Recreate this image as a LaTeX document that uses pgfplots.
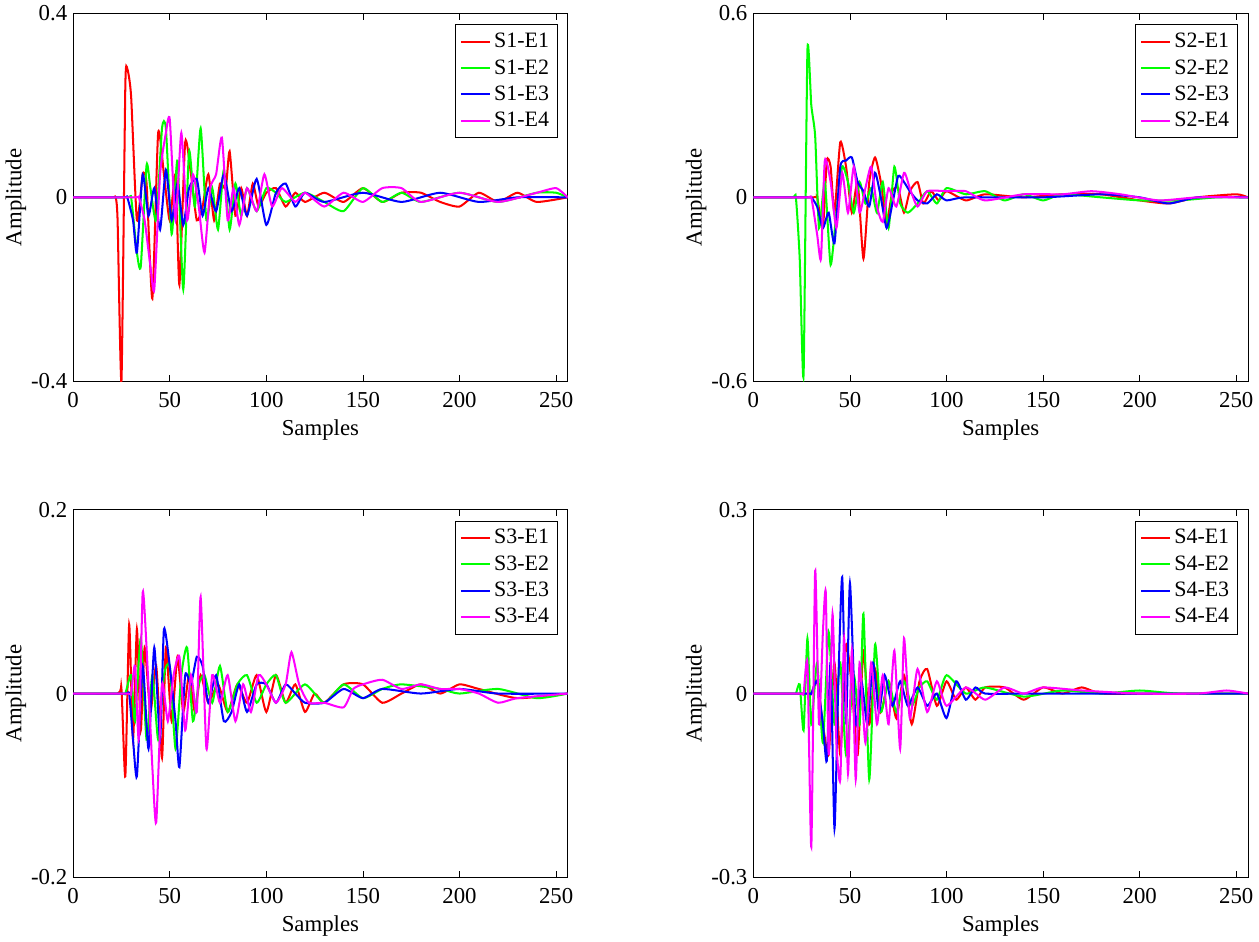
\documentclass[border=0pt]{standalone}
\usepackage{pgfplots}
\pgfplotsset{compat=1.18}
\usepgfplotslibrary{groupplots}
\usepackage{fontspec}
\setmainfont{Liberation Serif}
\definecolor{cR}{RGB}{255,0,0}
\definecolor{cG}{RGB}{0,255,0}
\definecolor{cB}{RGB}{0,0,255}
\definecolor{cM}{RGB}{255,0,255}
\pgfplotsset{every axis plot/.append style={line width=1.2pt, smooth, tension=0.35, no marks}}
\begin{document}
\begin{tikzpicture}
\begin{groupplot}[group style={group size=2 by 2, horizontal sep=110pt, vertical sep=76pt},
 width=293pt, height=218pt, scale only axis,
 xmin=0, xmax=256, xtick={0,50,100,150,200,250},
 tick align=inside, tick style={black, line width=0.4pt}, major tick length=4pt,
 /pgf/number format/assume math mode=true,
 ticklabel style={font=\fontsize{13.5}{15}\selectfont},
 xticklabel style={yshift=-3pt},
 label style={font=\fontsize{13.5}{15}\selectfont},
 xlabel={Samples}, ylabel={Amplitude},
 xlabel shift=0pt, ylabel shift=-4pt,
 legend style={at={(0.98,0.97)}, anchor=north east, draw=black, font=\fontsize{13}{15}\selectfont, row sep=1.5pt, inner sep=3pt},
 legend cell align=left,
 legend image post style={line width=1.2pt},
 clip=true]
% S1
\nextgroupplot[ymin=-0.4, ymax=0.4, ytick={-0.4,0,0.4}, yticklabels={-0.4,0,0.4}]
\addplot[cR] table[row sep=\\]{x y\\0 0\\20 0\\22 0\\23 -0.05\\25 -0.4\\27 0.24\\28 0.28\\30 0.22\\33 -0.05\\36 0.05\\38 0.03\\41 -0.22\\44 0.14\\47 0.05\\50 -0.05\\53 0.05\\55 -0.19\\58 0.12\\61 0.05\\64 -0.05\\67 -0.02\\70 0.05\\73 -0.05\\76 0.03\\79 0.02\\81 0.1\\84 -0.04\\87 0.02\\90 -0.04\\93 0.03\\96 -0.02\\100 0.01\\105 0.02\\110 -0.02\\115 0.01\\120 -0.01\\130 0.01\\140 -0.01\\150 0.02\\160 -0.01\\170 0.01\\180 0.01\\190 -0.01\\200 -0.02\\210 0.01\\220 -0.01\\230 0.01\\240 -0.01\\256 0\\};
\addplot[cG] table[row sep=\\]{x y\\0 0\\28 0\\30 0\\33 -0.12\\35 -0.15\\38 0.07\\40 0.02\\43 -0.05\\46 0.15\\48 0.15\\51 -0.08\\54 0.08\\57 -0.2\\60 0.1\\63 -0.02\\66 0.15\\69 -0.05\\72 0.02\\75 -0.07\\78 0.06\\81 -0.07\\84 0.03\\87 -0.04\\90 0.02\\95 -0.03\\100 0.02\\105 0.01\\110 -0.01\\120 0.01\\130 -0.01\\140 -0.03\\150 0.02\\160 -0.01\\170 0.01\\180 -0.01\\200 0.01\\220 -0.01\\240 0.01\\250 0.01\\256 0\\};
\addplot[cB] table[row sep=\\]{x y\\0 0\\26 0\\28 0\\31 -0.05\\33 -0.12\\36 0.05\\39 -0.04\\42 0.02\\45 -0.07\\48 0.06\\51 -0.05\\54 0.03\\57 -0.06\\60 0.02\\64 0.04\\67 -0.04\\70 0.02\\74 -0.03\\78 0.05\\82 -0.03\\86 0.02\\90 -0.04\\95 0.04\\100 -0.06\\105 0.01\\110 0.03\\115 -0.02\\120 0.01\\130 -0.01\\150 0.01\\170 -0.01\\190 0.01\\210 -0.01\\230 0\\256 0\\};
\addplot[cM] table[row sep=\\]{x y\\0 0\\32 0\\34 0\\37 -0.05\\40 -0.15\\42 -0.2\\45 0.05\\48 0.14\\50 0.17\\53 -0.05\\56 0.14\\59 -0.05\\62 0.05\\65 -0.02\\68 -0.12\\71 0.02\\74 0.05\\77 0.13\\80 -0.05\\83 0.02\\86 -0.06\\90 0.02\\95 -0.03\\99 0.05\\103 -0.02\\108 0.02\\115 -0.01\\120 0.01\\130 -0.02\\140 0.01\\150 -0.01\\160 0.02\\170 0.02\\180 -0.01\\200 0.01\\220 -0.01\\240 0.01\\250 0.02\\256 0\\};
\legend{S1-E1,S1-E2,S1-E3,S1-E4}
% S2
\nextgroupplot[ymin=-0.6, ymax=0.6, ytick={-0.6,0,0.6}, yticklabels={-0.6,0,0.6}]
\addplot[cR] table[row sep=\\]{x y\\0 0\\31 0\\33 0\\36 -0.1\\38 0.12\\40 0.1\\42 -0.05\\45 0.18\\48 0.1\\51 -0.05\\54 0.05\\57 -0.2\\60 0.05\\63 0.13\\66 0.05\\69 -0.08\\72 0.02\\75 0.03\\78 -0.05\\81 0.02\\85 0.05\\88 -0.02\\92 0.02\\96 -0.01\\100 0.02\\110 -0.01\\120 0.01\\140 0\\160 0.01\\180 0.01\\200 -0.01\\215 -0.02\\230 0\\250 0.01\\256 0\\};
\addplot[cG] table[row sep=\\]{x y\\0 0\\20 0\\22 0\\24 -0.2\\26 -0.58\\28 0.48\\30 0.3\\32 0.2\\34 -0.1\\37 0.05\\40 -0.22\\43 -0.05\\46 0.1\\49 0.05\\52 -0.05\\55 0.05\\58 -0.02\\61 0.03\\64 -0.05\\67 0.05\\70 -0.1\\73 0.1\\76 -0.02\\80 -0.05\\85 -0.02\\90 0.02\\95 -0.02\\100 0.03\\110 0.01\\120 0.02\\130 -0.01\\140 0.01\\150 -0.01\\160 0.01\\180 0\\200 -0.01\\220 -0.01\\240 0\\256 0\\};
\addplot[cB] table[row sep=\\]{x y\\0 0\\28 0\\30 0\\33 -0.03\\36 -0.1\\39 -0.05\\42 -0.15\\45 0.1\\48 0.12\\51 0.13\\54 0.05\\57 0.02\\60 -0.03\\63 0.08\\66 0\\69 -0.1\\72 -0.02\\75 0.07\\78 0.05\\81 0.02\\85 -0.01\\90 -0.02\\95 0.01\\100 -0.01\\110 0\\150 0\\180 0.01\\200 0\\215 -0.02\\230 0\\256 0\\};
\addplot[cM] table[row sep=\\]{x y\\0 0\\28 0\\30 0\\33 -0.12\\35 -0.2\\37 0.12\\40 0.05\\43 -0.1\\46 0.08\\49 -0.05\\52 0.1\\55 -0.05\\58 0.03\\61 0.1\\64 -0.03\\67 -0.08\\70 0.03\\74 -0.03\\78 0.08\\81 0.03\\85 -0.03\\90 0.02\\100 0.02\\110 0.02\\120 -0.01\\140 0.01\\160 0.01\\175 0.02\\190 0.01\\210 -0.01\\230 0\\256 0\\};
\legend{S2-E1,S2-E2,S2-E3,S2-E4}
% S3
\nextgroupplot[ymin=-0.2, ymax=0.2, ytick={-0.2,0,0.2}, yticklabels={-0.2,0,0.2}]
\addplot[cR] table[row sep=\\]{x y\\0 0\\23 0\\25 0.005\\27 -0.09\\29 0.075\\31 -0.05\\33 0.07\\35 -0.04\\37 0.05\\40 -0.02\\43 0.03\\46 -0.07\\48 0.05\\51 -0.03\\54 0.04\\57 -0.02\\60 0.02\\63 -0.02\\66 0.02\\70 -0.01\\75 0.01\\80 -0.02\\85 0.01\\90 -0.01\\95 0.02\\100 -0.02\\105 0.02\\110 -0.01\\115 0.01\\120 -0.02\\125 0\\130 -0.01\\140 0.01\\150 0.01\\160 -0.01\\170 0\\180 0.01\\190 0\\200 0.01\\210 0.005\\230 -0.005\\256 0\\};
\addplot[cG] table[row sep=\\]{x y\\0 0\\25 0\\27 0\\30 0.02\\32 -0.03\\35 0.06\\38 -0.05\\41 0.02\\44 -0.05\\47 0.02\\50 0.03\\53 -0.06\\56 0.02\\59 0.05\\62 -0.03\\65 0.01\\68 0.02\\72 -0.01\\76 0.03\\80 -0.02\\85 0.01\\90 0.02\\95 -0.01\\100 0.01\\105 0.02\\110 -0.01\\120 0.01\\130 -0.01\\140 0.01\\150 -0.005\\160 0.005\\170 0.01\\190 0.005\\200 0\\220 0.005\\240 -0.005\\256 0\\};
\addplot[cB] table[row sep=\\]{x y\\0 0\\27 0\\29 0\\31 -0.05\\33 -0.09\\36 0.03\\39 -0.06\\42 0.05\\45 -0.05\\47 0.07\\50 0.03\\53 -0.03\\55 -0.08\\58 0.02\\61 0.01\\64 0.04\\67 0.03\\70 -0.01\\74 0.02\\78 -0.03\\82 -0.02\\86 0.01\\90 -0.02\\95 0.01\\100 0.01\\105 -0.01\\110 0.01\\115 0\\120 -0.01\\130 -0.01\\140 0.005\\150 -0.005\\160 0.005\\180 0\\200 0.005\\220 0\\256 0\\};
\addplot[cM] table[row sep=\\]{x y\\0 0\\28 0\\30 0\\32 0.03\\34 -0.05\\36 0.11\\38 0.05\\41 -0.08\\43 -0.14\\46 0.01\\49 -0.03\\52 0.02\\55 0.04\\58 -0.04\\61 0.02\\64 -0.02\\66 0.105\\69 -0.06\\72 0.02\\76 -0.01\\80 0.02\\84 -0.03\\88 0.01\\92 -0.02\\96 0.02\\100 0.01\\105 -0.01\\110 0.01\\113 0.045\\117 0.01\\122 -0.01\\130 -0.01\\140 -0.015\\145 0.005\\150 0.01\\160 0.015\\170 0.005\\180 0.01\\190 0.005\\200 0.005\\210 0\\220 -0.01\\230 -0.005\\256 0\\};
\legend{S3-E1,S3-E2,S3-E3,S3-E4}
% S4
\nextgroupplot[ymin=-0.3, ymax=0.3, ytick={-0.3,0,0.3}, yticklabels={-0.3,0,0.3}]
\addplot[cR] table[row sep=\\]{x y\\0 0\\28 0\\30 0\\33 0.02\\36 -0.05\\39 -0.1\\42 0.05\\45 -0.1\\48 0.08\\51 0.01\\54 -0.1\\57 0.07\\60 -0.05\\63 0.04\\66 -0.03\\70 0.02\\74 -0.04\\78 0.03\\82 -0.05\\86 0.02\\90 0.04\\95 -0.02\\100 0.02\\105 -0.01\\110 0.01\\115 -0.01\\120 0.01\\130 0.01\\140 -0.01\\150 0.01\\160 0\\170 0.01\\180 0\\200 0\\220 0\\256 0\\};
\addplot[cG] table[row sep=\\]{x y\\0 0\\20 0\\22 0\\24 0.015\\26 -0.06\\28 0.09\\30 -0.05\\33 0.05\\36 -0.08\\39 0.1\\42 -0.05\\45 0.05\\48 -0.1\\52 0.03\\55 -0.05\\57 0.13\\60 -0.14\\63 0.08\\66 -0.03\\70 0.02\\74 -0.03\\78 0.02\\82 -0.02\\86 0.01\\90 0.02\\95 -0.01\\100 0.03\\110 0\\120 0.01\\140 -0.005\\160 0.005\\180 0\\200 0.005\\220 0\\256 0\\};
\addplot[cB] table[row sep=\\]{x y\\0 0\\28 0\\30 0\\33 0.02\\36 -0.05\\38 -0.11\\40 0.05\\42 -0.22\\44 0.02\\46 0.19\\48 -0.05\\50 0.18\\53 -0.05\\56 0.02\\59 -0.05\\62 0.05\\65 -0.03\\68 0.03\\72 -0.02\\76 0.02\\80 -0.02\\85 0.01\\90 -0.02\\95 0\\100 -0.04\\105 0.02\\110 -0.01\\115 0.01\\120 0\\140 0\\160 0\\200 0\\256 0\\};
\addplot[cM] table[row sep=\\]{x y\\0 0\\24 0\\26 0\\28 0.05\\30 -0.25\\32 0.2\\34 -0.05\\36 0.1\\37.5 0.165\\39 -0.1\\41 0.13\\43 -0.08\\45 -0.14\\47 0.09\\49 -0.13\\51 0.07\\53 -0.14\\55 0.05\\58 -0.08\\61 0.05\\64 -0.05\\67 0.03\\70 -0.05\\73 0.07\\76 -0.09\\78 0.09\\81 -0.04\\85 0.04\\90 -0.03\\95 0.02\\100 -0.02\\110 0.01\\120 -0.01\\130 0.01\\140 0\\150 0.01\\170 0.005\\200 0\\230 0\\245 0.005\\256 0\\};
\legend{S4-E1,S4-E2,S4-E3,S4-E4}
\end{groupplot}
\end{tikzpicture}
\end{document}
